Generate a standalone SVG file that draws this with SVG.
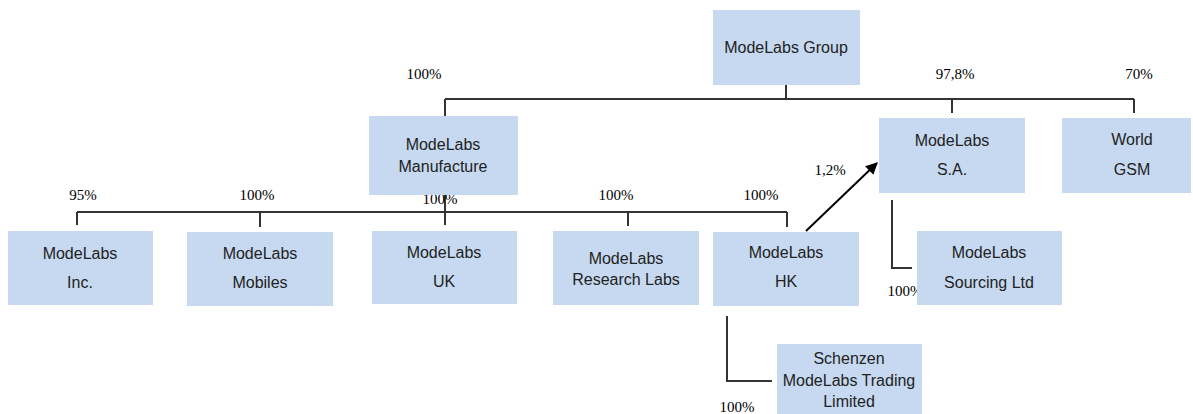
<svg xmlns="http://www.w3.org/2000/svg" width="1193" height="414" viewBox="0 0 1193 414">
<defs>
<style>
.box{fill:#C6D9F0;}
.t{font-family:"Liberation Sans",Arial,sans-serif;font-size:16px;fill:#222;text-anchor:middle;}
.p{font-family:"Liberation Serif","Times New Roman",serif;font-size:15px;fill:#000;text-anchor:middle;}
.c{fill:none;stroke:#333;stroke-width:2;}
</style>
<marker id="ah" viewBox="0 0 10 10" refX="9" refY="5" markerWidth="6" markerHeight="6" orient="auto" markerUnits="strokeWidth">
<path d="M0,0 L10,5 L0,10 z" fill="#000"/>
</marker>
</defs>
<rect width="1193" height="414" fill="#fff"/>
<g id="connectors">
<path class="c" d="M786,85 V99 M445,99 H1134 M445,99 V116 M952,99 V113 M1134,99 V113"/>
<path class="c" d="M445,195 V225 M77,212 H787 M77,212 V225 M260,212 V227 M628,212 V226 M787,212 V227"/>
<path class="c" d="M892,200 V268 H912"/>
<path class="c" d="M727,316 V381 H772"/>
<line x1="806" y1="231" x2="877" y2="163" stroke="#000" stroke-width="2" marker-end="url(#ah)"/>
</g>
<g id="labels">
<text class="p" x="424" y="79">100%</text>
<text class="p" x="955" y="79">97,8%</text>
<text class="p" x="1139" y="79">70%</text>
<text class="p" x="83" y="200">95%</text>
<text class="p" x="257" y="200">100%</text>
<text class="p" x="440" y="204">100%</text>
<text class="p" x="616" y="200">100%</text>
<text class="p" x="761" y="200">100%</text>
<text class="p" x="830" y="175">1,2%</text>
<text class="p" x="905" y="296">100%</text>
<text class="p" x="737" y="412">100%</text>
</g>
<g id="n-group"><rect class="box" x="713" y="10" width="147" height="75"/><text class="t" x="786" y="53">ModeLabs Group</text></g>
<g id="n-manufacture"><rect class="box" x="369" y="116" width="149" height="79"/><text class="t" x="443" y="150">ModeLabs</text><text class="t" x="443" y="172">Manufacture</text></g>
<g id="n-sa"><rect class="box" x="879" y="118" width="146" height="75"/><text class="t" x="952" y="146">ModeLabs</text><text class="t" x="952" y="175">S.A.</text></g>
<g id="n-world"><rect class="box" x="1062" y="118" width="129" height="75"/><text class="t" x="1132" y="145">World</text><text class="t" x="1132" y="175">GSM</text></g>
<g id="n-inc"><rect class="box" x="8" y="231" width="145" height="74"/><text class="t" x="80" y="259">ModeLabs</text><text class="t" x="80" y="288">Inc.</text></g>
<g id="n-mobiles"><rect class="box" x="187" y="232" width="146" height="74"/><text class="t" x="260" y="259">ModeLabs</text><text class="t" x="260" y="288">Mobiles</text></g>
<g id="n-uk"><rect class="box" x="372" y="231" width="145" height="73"/><text class="t" x="444" y="258">ModeLabs</text><text class="t" x="444" y="287">UK</text></g>
<g id="n-research"><rect class="box" x="553" y="231" width="146" height="74"/><text class="t" x="626" y="264">ModeLabs</text><text class="t" x="626" y="285">Research Labs</text></g>
<g id="n-hk"><rect class="box" x="713" y="232" width="146" height="74"/><text class="t" x="786" y="258">ModeLabs</text><text class="t" x="786" y="287">HK</text></g>
<g id="n-sourcing"><rect class="box" x="917" y="231" width="145" height="74"/><text class="t" x="989" y="258">ModeLabs</text><text class="t" x="989" y="288">Sourcing Ltd</text></g>
<g id="n-schenzen"><rect class="box" x="777" y="344" width="145" height="72"/><text class="t" x="849" y="364">Schenzen</text><text class="t" x="849" y="386">ModeLabs Trading</text><text class="t" x="849" y="407">Limited</text></g>
</svg>
